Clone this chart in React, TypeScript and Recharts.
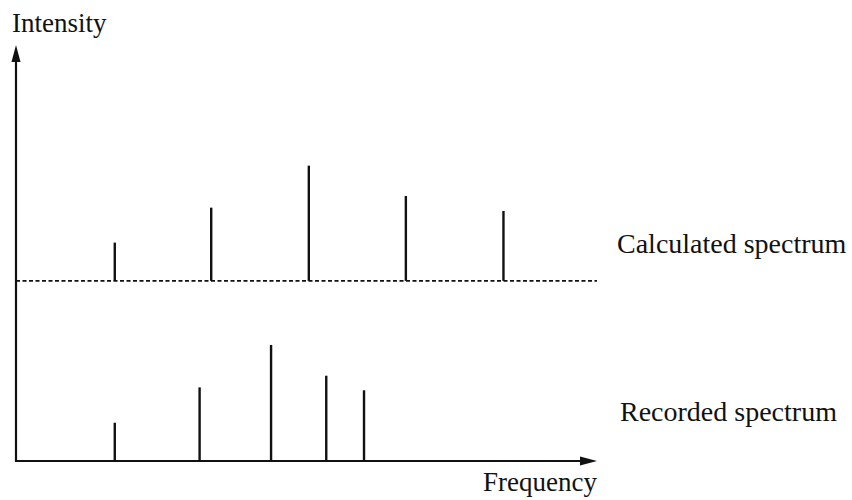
import React from "react";
import { ComposedChart, XAxis, YAxis, ReferenceLine } from "recharts";

// Frequency positions (arbitrary units 0-100) and intensities (0-100 scale)
const recordedFreq = [17.0, 31.6, 43.9, 53.4, 59.9];
const recordedIntensity = [9.2, 17.7, 27.9, 20.5, 17.0];

const calculatedFreq = [17.0, 33.6, 50.4, 67.1, 83.9];
const calculatedIntensity = [9.2, 17.6, 27.7, 20.4, 16.8];
const calculatedBaseline = 43.3;

const xDomain: [number, number] = [0, 100];
const yDomain: [number, number] = [0, 100];

const labels = {
  yAxis: "Intensity",
  xAxis: "Frequency",
  calculated: "Calculated spectrum",
  recorded: "Recorded spectrum",
};

const INK = "#111";
const FONT = '"Times New Roman", "Liberation Serif", "DejaVu Serif", serif';

const ArrowUp = (p: any) => {
  const { x1, y1, x2, y2 } = p;
  const top = Math.min(y1, y2);
  const bottom = Math.max(y1, y2);
  return (
    <g>
      <line x1={x1} y1={bottom + 1} x2={x2} y2={top + 12} stroke={INK} strokeWidth={2.2} />
      <polygon points={`${x2},${top} ${x2 - 4.5},${top + 17} ${x2 + 4.5},${top + 17}`} fill={INK} />
    </g>
  );
};

const ArrowRight = (p: any) => {
  const { x1, y1, x2, y2 } = p;
  const left = Math.min(x1, x2);
  const right = Math.max(x1, x2);
  return (
    <g>
      <line x1={left - 1} y1={y1} x2={right - 12} y2={y2} stroke={INK} strokeWidth={2.2} />
      <polygon points={`${right},${y2} ${right - 17},${y2 - 4.5} ${right - 17},${y2 + 4.5}`} fill={INK} />
    </g>
  );
};

const textStyle = { fontFamily: FONT };

export default function App() {
  return (
    <div style={{ position: "absolute", left: 0, top: 0, width: 852, height: 500, background: "#fff" }}>
      <ComposedChart
        width={852}
        height={500}
        margin={{ top: 45, right: 255, left: 16, bottom: 39 }}
      >
        <XAxis type="number" dataKey="x" domain={xDomain} hide allowDataOverflow />
        <YAxis type="number" domain={yDomain} hide allowDataOverflow />

        <ReferenceLine
          y={calculatedBaseline}
          stroke={INK}
          strokeWidth={1.8}
          strokeDasharray="4 2.5"
          ifOverflow="visible"
        />

        {calculatedFreq.map((f, i) => (
          <ReferenceLine
            key={`c${i}`}
            segment={[
              { x: f, y: calculatedBaseline },
              { x: f, y: calculatedBaseline + calculatedIntensity[i] },
            ]}
            stroke={INK}
            strokeWidth={2.4}
            ifOverflow="visible"
          />
        ))}

        {recordedFreq.map((f, i) => (
          <ReferenceLine
            key={`r${i}`}
            segment={[
              { x: f, y: 0 },
              { x: f, y: recordedIntensity[i] },
            ]}
            stroke={INK}
            strokeWidth={2.4}
            ifOverflow="visible"
          />
        ))}

        <ReferenceLine
          segment={[
            { x: xDomain[0], y: yDomain[0] },
            { x: xDomain[0], y: yDomain[1] },
          ]}
          shape={ArrowUp}
          ifOverflow="visible"
        />
        <ReferenceLine
          segment={[
            { x: xDomain[0], y: yDomain[0] },
            { x: xDomain[1], y: yDomain[0] },
          ]}
          shape={ArrowRight}
          ifOverflow="visible"
        />

        <text x={12} y={32} style={textStyle} fontSize={27} fill={INK}>
          {labels.yAxis}
        </text>
        <text x={483} y={491} style={textStyle} fontSize={27} fill={INK}>
          {labels.xAxis}
        </text>
        <text x={617} y={253} style={textStyle} fontSize={28} fill={INK}>
          {labels.calculated}
        </text>
        <text x={620} y={421} style={textStyle} fontSize={28} fill={INK}>
          {labels.recorded}
        </text>
      </ComposedChart>
    </div>
  );
}
